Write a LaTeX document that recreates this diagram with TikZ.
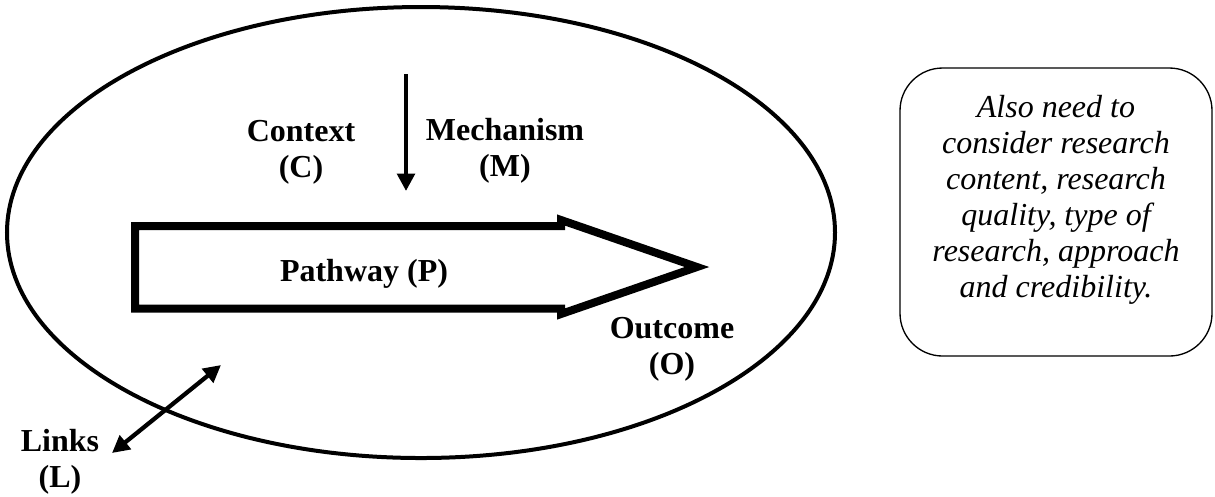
\documentclass[tikz,border=0pt]{standalone}
\usepackage{fontspec}
\setmainfont{Liberation Serif}
\usepackage{tikz}
\usetikzlibrary{positioning, arrows.meta}

\begin{document}
\begin{tikzpicture}[x=0.375pt, y=-0.375pt, font=\fontsize{12}{13.5}\selectfont,
        >={Triangle[length=6.5pt, width=6.5pt]},
        lbl/.style={font=\fontsize{12}{13.5}\selectfont\bfseries, align=center, inner sep=0pt},
        con/.style={line width=1.6pt},
        note/.style={draw, line width=0.5pt, rounded corners=16pt, minimum width=117pt, minimum height=108pt}]
        \useasboundingbox (0,0) rectangle (1215,496);
        % context boundary and pathway arrow
        \draw[line width=1.5pt] (421,232.5) ellipse [x radius=414, y radius=225.5];
        \draw[line width=3pt] (135,226) -- (561,226) -- (561,220) -- (697,267)
              -- (561,314) -- (561,308.5) -- (135,308.5) -- cycle;
        \node[lbl] (path) at (364,273.5) {Pathway (P)};
        \node[lbl] (ctx) at (301,152.5) {Context\\(C)};
        \node[lbl] (mech) at (505,151) {Mechanism\\(M)};
        \node[lbl] (out) at (672,349) {Outcome\\(O)};
        \node[lbl] (links) at (60,462) {Links\\(L)};
        \coordinate (mtop) at (406,74);
        \coordinate (mbot) at (406,191);
        \coordinate (lout) at (112,453);
        \coordinate (lin) at (221,365);
        \draw[con, ->] (mtop) -- (mbot);
        \draw[con, <->] (lout) -- (lin);
        % side note
        \node[note] (note) at (1056,212) {};
        \node[align=center, inner sep=0pt, font=\fontsize{12}{13.5}\selectfont\itshape] (notetext)
              at ([yshift=4.5pt]note.center) {Also need to\\consider research\\content, research\\quality, type of\\research, approach\\and credibility.};
      \end{tikzpicture}
\end{document}
